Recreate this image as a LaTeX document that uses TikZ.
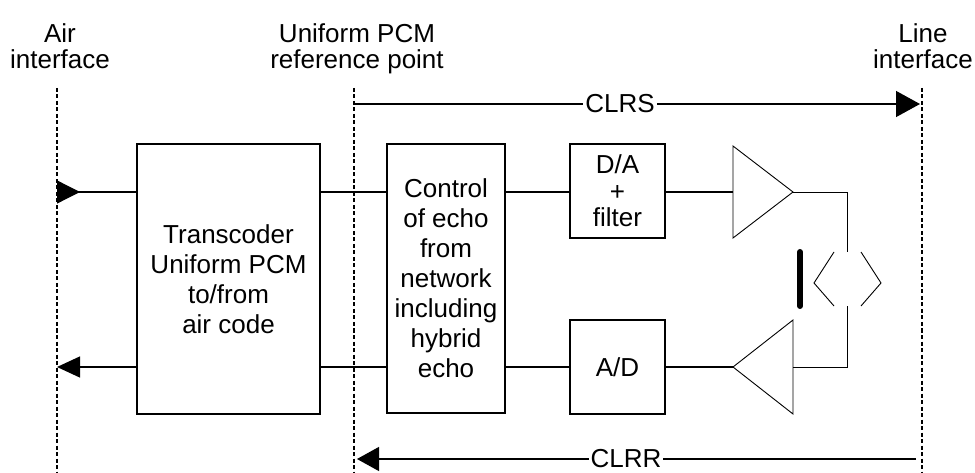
\documentclass[tikz,border=0pt]{standalone}
\usepackage{fontspec}
\setmainfont{Liberation Sans}
\usetikzlibrary{arrows.meta}
\begin{document}
\begin{tikzpicture}[x=1pt,y=-1pt,
  font=\fontsize{26}{30}\selectfont,
  box/.style={draw, line width=1.3pt, inner sep=0pt, align=center},
  wire/.style={line width=1.3pt},
  thinwire/.style={line width=0.9pt},
  iface/.style={line width=1.5pt, dash pattern=on 4pt off 2.5pt},
  lbl/.style={align=center, inner sep=0pt, anchor=north, font=\fontsize{26}{26.5}\selectfont},
  clr/.style={fill=white, inner xsep=2pt, inner ysep=0pt}]
\useasboundingbox (0,0) rectangle (975,473);

% interface lines
\coordinate (airT) at (57,88);  \coordinate (airB) at (57,473);
\coordinate (refT) at (354,88); \coordinate (refB) at (354,473);
\coordinate (lineT) at (922,88); \coordinate (lineB) at (922,473);
\draw[iface] (airT) -- (airB);
\draw[iface] (refT) -- (refB);
\draw[iface] (lineT) -- (lineB);

% labels
\node[lbl] (airlbl) at (60,23) {Air\\interface};
\node[lbl] (reflbl) at (357,23) {Uniform PCM\\reference point};
\node[lbl] (linelbl) at (923,23) {Line\\interface};

% signal rows
\coordinate (ytop) at (0,192);
\coordinate (ybot) at (0,367);

% boxes
\node[box, minimum width=183pt, minimum height=270pt] (trans) at (228.5,279) {Transcoder\\Uniform PCM\\to/from\\air code};
\node[box, minimum width=118pt, minimum height=269pt] (echo) at (446,278.5) {Control\\of echo\\from\\network\\including\\hybrid\\echo};
\node[box, minimum width=95pt, minimum height=94pt, font=\fontsize{26}{26.5}\selectfont] (da) at (617.5,191) {D/A\\+\\filter};
\node[box, minimum width=95pt, minimum height=94pt] (ad) at (617.5,367) {A/D};

% amplifiers
\coordinate (txTop) at (733,146); \coordinate (txBot) at (733,238);
\coordinate (txL) at (733,192);   \coordinate (txA) at (793,192);
\coordinate (rxTop) at (793,320); \coordinate (rxBot) at (793,414);
\coordinate (rxR) at (793,367);   \coordinate (rxA) at (733,367);
\draw[thinwire] (txTop) -- (txBot) -- (txA) -- cycle;
\draw[thinwire] (rxTop) -- (rxBot) -- (rxA) -- cycle;

% hybrid
\coordinate (hT) at (847,252); \coordinate (hB) at (847,306);
\draw[thinwire] (txA) -| (hT);
\draw[thinwire] (hB) |- (rxR);
\draw[thinwire] (834,252) -- (814,283) -- (834,306);
\draw[thinwire] (861,252) -- (881,283) -- (861,306);
\draw[line width=6pt, line cap=round] (800,252) -- (800,306);

% top (send) path
\draw[wire, {Triangle[reversed,length=23pt,width=23pt]}-] (airT |- ytop) -- (trans.west |- ytop);
\draw[wire] (trans.east |- ytop) -- (echo.west |- ytop);
\draw[wire] (echo.east |- ytop) -- (da.west |- ytop);
\draw[wire] (da.east |- ytop) -- (txL);

% bottom (receive) path
\draw[wire] (rxA) -- (ad.east |- ybot);
\draw[wire] (ad.west |- ybot) -- (echo.east |- ybot);
\draw[wire] (echo.west |- ybot) -- (trans.east |- ybot);
\draw[wire, -{Triangle[length=23pt,width=21pt]}] (trans.west |- ybot) -- (airT |- ybot);

% CLRS / CLRR
\coordinate (clrsA) at (354,104); \coordinate (clrsB) at (920,104);
\draw[wire, -{Triangle[length=24pt,width=26pt]}] (clrsA) -- (clrsB);
\node[clr] (clrs) at (620,104) {CLRS};
\coordinate (clrrA) at (916,459); \coordinate (clrrB) at (357,459);
\draw[wire, -{Triangle[length=22pt,width=24pt]}] (clrrA) -- (clrrB);
\node[clr] (clrr) at (626,459) {CLRR};
\end{tikzpicture}
\end{document}
